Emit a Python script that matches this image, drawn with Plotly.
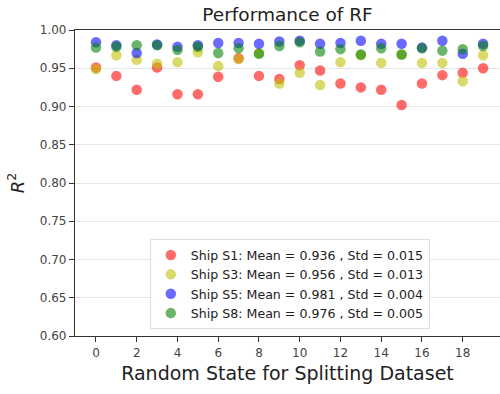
import plotly.graph_objects as go

# Random states used when splitting the dataset
random_states = list(range(20))

# R^2 scores of the random forest for each ship
r2_s1 = [0.951, 0.940, 0.922, 0.951, 0.916, 0.916, 0.939, 0.963, 0.940, 0.936,
         0.954, 0.947, 0.930, 0.925, 0.922, 0.902, 0.930, 0.941, 0.944, 0.950]
r2_s3 = [0.949, 0.967, 0.961, 0.956, 0.958, 0.971, 0.953, 0.962, 0.970, 0.930,
         0.944, 0.928, 0.958, 0.967, 0.957, 0.968, 0.957, 0.957, 0.933, 0.967]
r2_s5 = [0.984, 0.980, 0.970, 0.981, 0.978, 0.980, 0.983, 0.983, 0.982, 0.985,
         0.986, 0.982, 0.983, 0.986, 0.982, 0.982, 0.977, 0.986, 0.969, 0.982]
r2_s8 = [0.977, 0.978, 0.980, 0.980, 0.974, 0.978, 0.970, 0.976, 0.969, 0.979,
         0.984, 0.972, 0.975, 0.968, 0.976, 0.968, 0.976, 0.973, 0.975, 0.979]

series_names = ["Ship S1: Mean = 0.936 , Std = 0.015",
                "Ship S3: Mean = 0.956 , Std = 0.013",
                "Ship S5: Mean = 0.981 , Std = 0.004",
                "Ship S8: Mean = 0.976 , Std = 0.005"]
series_values = [r2_s1, r2_s3, r2_s5, r2_s8]
series_colors = ["rgba(255,0,0,0.58)", "rgba(191,191,0,0.58)",
                 "rgba(0,0,255,0.58)", "rgba(0,128,0,0.58)"]

y_ticks = [0.60, 0.65, 0.70, 0.75, 0.80, 0.85, 0.90, 0.95, 1.00]
x_ticks = list(range(0, 20, 2))

font_family = "DejaVu Sans"
text_color = "#333333"

fig = go.Figure()
for name, vals, col in zip(series_names, series_values, series_colors):
    fig.add_trace(go.Scatter(
        x=random_states, y=vals, mode="markers", name=name,
        marker=dict(size=10.5, color=col, line=dict(width=0)),
    ))

fig.update_layout(
    width=500, height=394,
    margin=dict(l=75, r=0, t=30, b=58),
    paper_bgcolor="white", plot_bgcolor="white",
    font=dict(family=font_family, color=text_color, size=12),
    title=dict(text="Performance of RF", x=0.5, xanchor="center",
               xref="paper", y=0.962, yanchor="middle",
               font=dict(size=18.5, color="#222222")),
    showlegend=True,
    legend=dict(x=0.176, y=0.022, xanchor="left", yanchor="bottom",
                bgcolor="rgba(255,255,255,0.85)", bordercolor="#dddddd",
                borderwidth=1, font=dict(size=12.6, color="#222222"),
                itemwidth=30, tracegroupgap=0),
)

fig.update_xaxes(
    range=[-1.03, 19.83], tickvals=x_ticks, ticktext=[str(v) for v in x_ticks],
    showgrid=False, zeroline=False,
    showline=True, linecolor="#333333", linewidth=1.2, mirror=True,
    ticks="outside", ticklen=5, tickcolor="#333333",
    tickfont=dict(size=12, color="#444444"),
    title=dict(text="Random State for Splitting Dataset",
               font=dict(size=19, color="#222222"), standoff=8),
)
fig.update_yaxes(
    range=[0.60, 1.00], tickvals=y_ticks,
    ticktext=[f"{v:.2f}" for v in y_ticks],
    showgrid=True, gridcolor="#e6e6e6", gridwidth=1, zeroline=False,
    showline=True, linecolor="#333333", linewidth=1.2,
    ticks="outside", ticklen=5, tickcolor="#333333",
    tickfont=dict(size=12, color="#444444"),
    title=dict(text="<i>R</i><sup>2</sup>", font=dict(size=18, color="#222222"),
               standoff=10),
)

fig.write_html("out.html")
